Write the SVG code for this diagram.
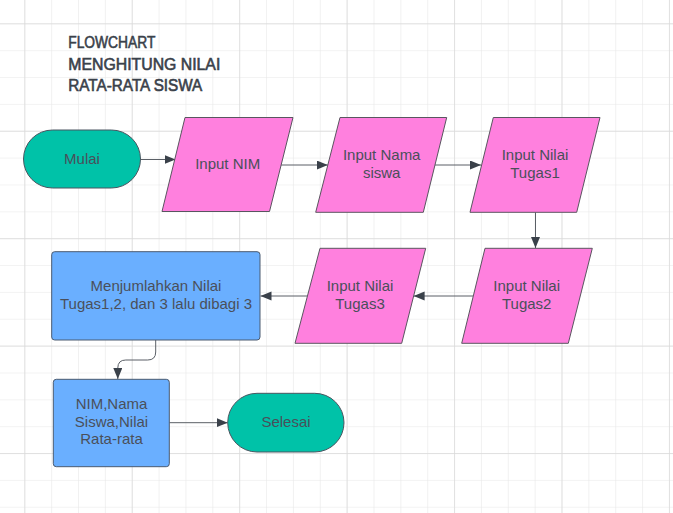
<svg xmlns="http://www.w3.org/2000/svg" width="673" height="513" viewBox="0 0 673 513">
<style>
.t{font-family:"Liberation Sans",Arial,sans-serif;font-size:15px;fill:#4a4f5a;text-anchor:middle}
.title{font-family:"Liberation Sans",Arial,sans-serif;font-size:16px;fill:#3a414a;stroke:#3a414a;stroke-width:0.6}
.term{fill:#00c2a8;stroke:#4a5560;stroke-width:1}
.io{fill:#ff80de;stroke:#5a5560;stroke-width:1;stroke-linejoin:round}
.proc{fill:#6aafff;stroke:#4a5a70;stroke-width:1}
.c{fill:none;stroke:#5a5f66;stroke-width:1;marker-end:url(#arr)}
</style>
<defs>
<marker id="arr" markerUnits="userSpaceOnUse" markerWidth="12" markerHeight="10" refX="11" refY="4.5" orient="auto">
<path d="M0,0 L11,4.5 L0,9 z" fill="#3a414a"/>
</marker>
<pattern id="minor" patternUnits="userSpaceOnUse" x="24.3" y="23.3" width="26.86" height="26.86">
<path d="M0,0 V26.86 M0,0 H26.86" stroke="#e8e8e8" stroke-width="1.2" fill="none"/>
</pattern>
<pattern id="major" patternUnits="userSpaceOnUse" x="24.3" y="23.3" width="107.44" height="107.44">
<path d="M0,0 V107.44 M0,0 H107.44" stroke="#dadada" stroke-width="1.4" fill="none"/>
</pattern>
</defs>
<rect width="673" height="513" fill="#ffffff"/>
<rect width="673" height="513" fill="url(#minor)"/>
<rect width="673" height="513" fill="url(#major)"/>

<g id="title">
<text class="title" x="68.3" y="48.3" textLength="87" lengthAdjust="spacingAndGlyphs">FLOWCHART</text>
<text class="title" x="68.3" y="69.7" textLength="152" lengthAdjust="spacingAndGlyphs">MENGHITUNG NILAI</text>
<text class="title" x="68.3" y="90.7" textLength="134" lengthAdjust="spacingAndGlyphs">RATA-RATA SISWA</text>
</g>

<g id="connectors">
<path class="c" d="M140.5,159.5 H175.5"/>
<path class="c" d="M281.1,165 H327.8"/>
<path class="c" d="M434.9,165 H481"/>
<path class="c" d="M535.5,212.3 V248"/>
<path class="c" d="M473.3,296 H413.6"/>
<path class="c" d="M307.5,296 H260.5"/>
<path class="c" d="M155.7,340 V352 Q155.7,360 147.7,360 H125.8 Q117.8,360 117.8,368 V379"/>
<path class="c" d="M169.3,422.7 H227.7"/>
</g>

<g id="mulai">
<rect class="term" x="23.5" y="130" width="117" height="58" rx="29"/>
<text class="t" x="82" y="163.5">Mulai</text>
</g>

<g id="input-nim">
<path class="io" d="M185,117.5 H293 L269.5,211.5 H162 Z"/>
<text class="t" x="227.7" y="169">Input NIM</text>
</g>

<g id="input-nama">
<path class="io" d="M340,117.5 H446.7 L423.3,212.3 H315.7 Z"/>
<text class="t" x="381.7" y="160.3">Input Nama</text>
<text class="t" x="381.7" y="178">siswa</text>
</g>

<g id="input-tugas1">
<path class="io" d="M493.3,117.5 H600 L576.7,212.3 H470 Z"/>
<text class="t" x="535" y="160.3">Input Nilai</text>
<text class="t" x="535" y="178">Tugas1</text>
</g>

<g id="input-tugas2">
<path class="io" d="M485,248.3 H592.3 L568.3,343.3 H461.7 Z"/>
<text class="t" x="526.7" y="291">Input Nilai</text>
<text class="t" x="526.7" y="309">Tugas2</text>
</g>

<g id="input-tugas3">
<path class="io" d="M320,248.3 H425.7 L401.7,343.3 H295 Z"/>
<text class="t" x="360" y="291">Input Nilai</text>
<text class="t" x="360" y="309">Tugas3</text>
</g>

<g id="menjumlahkan">
<rect class="proc" x="51.7" y="251.7" width="208.3" height="88.3" rx="3"/>
<text class="t" x="156" y="291">Menjumlahkan Nilai</text>
<text class="t" x="156" y="308.7">Tugas1,2, dan 3 lalu dibagi 3</text>
</g>

<g id="output">
<rect class="proc" x="53.3" y="379.3" width="116" height="87.4" rx="3"/>
<text class="t" x="111.5" y="409.3">NIM,Nama</text>
<text class="t" x="111.5" y="426.8">Siswa,Nilai</text>
<text class="t" x="111.5" y="444.3">Rata-rata</text>
</g>

<g id="selesai">
<rect class="term" x="227.7" y="393.3" width="116.3" height="58.7" rx="29.3"/>
<text class="t" x="286" y="426.7">Selesai</text>
</g>
</svg>
